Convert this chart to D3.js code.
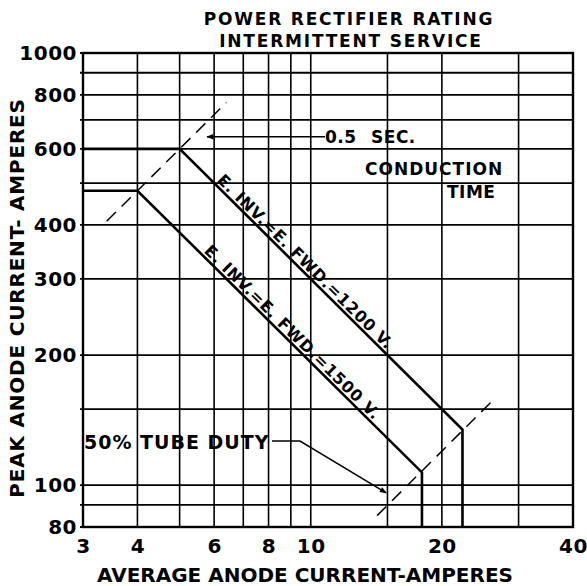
<!DOCTYPE html>
<html>
<head>
<meta charset="utf-8">
<script src="https://cdn.jsdelivr.net/npm/d3@7"></script>
<style>
  body { margin: 0; background: #fff; }
  svg text { font-family: "DejaVu Sans", sans-serif; font-weight: bold; fill: #000; }
</style>
</head>
<body>
<svg id="chart" width="587" height="586"></svg>
<script>
// grid + tick values
const xGrid = [3, 4, 5, 6, 7, 8, 9, 10, 15, 20, 30, 40];
const yGrid = [80, 90, 100, 150, 200, 300, 400, 500, 600, 700, 800, 900, 1000];
const xTicks = [3, 4, 6, 8, 10, 20, 40];
const yTicks = [80, 100, 200, 300, 400, 600, 800, 1000];

// rating curves (avg amps, peak amps)
const curve1200 = [[3, 600], [5, 600], [22.3, 134.5], [22.3, 80]];
const curve1500 = [[3, 480], [4, 480], [18, 107], [18, 80]];

// dashed limit lines
const dashConduction = [[3.4, 408], [6.4, 768]];
const dashDuty = [[14.2, 85], [26, 156]];

const svg = d3.select("#chart");
const plotL = 83, plotT = 53, plotR = 573, plotB = 527;

const x = d3.scaleLog().domain([3, 40]).range([plotL, plotR]);
const y = d3.scaleLog().domain([80, 1000]).range([plotB, plotT]);

// arrowhead
svg.append("defs").append("marker")
    .attr("id", "arrow")
    .attr("viewBox", "0 0 10 10")
    .attr("refX", 9).attr("refY", 5)
    .attr("markerWidth", 10).attr("markerHeight", 7)
    .attr("markerUnits", "userSpaceOnUse")
    .attr("orient", "auto")
    .append("path").attr("d", "M0,1 L10,5 L0,9 Z").attr("fill", "#000");

// grid lines
svg.append("g").selectAll("line").data(xGrid).join("line")
    .attr("x1", d => x(d)).attr("x2", d => x(d))
    .attr("y1", plotT).attr("y2", plotB)
    .attr("stroke", "#000").attr("stroke-width", 1.6);

svg.append("g").selectAll("line").data(yGrid).join("line")
    .attr("x1", plotL - 3).attr("x2", plotR)
    .attr("y1", d => y(d)).attr("y2", d => y(d))
    .attr("stroke", "#000").attr("stroke-width", 1.8);

// frame
svg.append("rect")
    .attr("x", plotL).attr("y", plotT)
    .attr("width", plotR - plotL).attr("height", plotB - plotT)
    .attr("fill", "none").attr("stroke", "#000").attr("stroke-width", 2.4);

// axes (labels only)
const xAxis = svg.append("g")
    .attr("transform", `translate(0,${plotB})`)
    .call(d3.axisBottom(x).tickValues(xTicks).tickFormat(d3.format("d")).tickSize(0).tickPadding(12));
const yAxis = svg.append("g")
    .attr("transform", `translate(${plotL},0)`)
    .call(d3.axisLeft(y).tickValues(yTicks).tickFormat(d3.format("d")).tickSize(0).tickPadding(6));
[xAxis, yAxis].forEach(g => {
    g.select(".domain").remove();
    g.selectAll("text").style("font-size", "20px").style("font-family", "DejaVu Sans")
        .style("font-weight", "bold").style("letter-spacing", "0.5px");
});

const line = d3.line().x(d => x(d[0])).y(d => y(d[1]));

svg.append("path").datum(curve1200).attr("d", line)
    .attr("fill", "none").attr("stroke", "#000").attr("stroke-width", 2.6);
svg.append("path").datum(curve1500).attr("d", line)
    .attr("fill", "none").attr("stroke", "#000").attr("stroke-width", 2.6);

[dashConduction, dashDuty].forEach(d => {
    svg.append("path").datum(d).attr("d", line)
        .attr("fill", "none").attr("stroke", "#000").attr("stroke-width", 1.5)
        .attr("stroke-dasharray", "13,8");
});

// labels along the sloping parts
function slopeLabel(curve, startX, txt, off) {
    const p1 = curve[1], p2 = curve[2];
    const ang = Math.atan2(y(p2[1]) - y(p1[1]), x(p2[0]) - x(p1[0])) * 180 / Math.PI;
    // point on the sloped segment at startX (log-linear)
    const t = Math.log(startX / p1[0]) / Math.log(p2[0] / p1[0]);
    const py = Math.exp(Math.log(p1[1]) + t * Math.log(p2[1] / p1[1]));
    svg.append("text")
        .attr("transform", `translate(${x(startX)},${y(py)}) rotate(${ang})`)
        .attr("dy", -off)
        .style("font-size", "16px")
        .style("letter-spacing", "0.8px")
        .text(txt);
}
slopeLabel(curve1200, 6.0, "E. INV.=E. FWD.=1200 V.", 3);
slopeLabel(curve1500, 5.6, "E. INV.=E. FWD.=1500 V.", 3);

// annotations
svg.append("line")
    .attr("x1", 325).attr("y1", y(640)).attr("x2", 207).attr("y2", y(640))
    .attr("stroke", "#000").attr("stroke-width", 1.5).attr("marker-end", "url(#arrow)");
svg.append("text").attr("x", 325).attr("y", y(640) + 6).style("font-size", "17px")
    .style("letter-spacing", "0.5px").style("word-spacing", "8px").text("0.5 SEC.");
svg.append("text").attr("x", 365).attr("y", y(540) + 6).style("font-size", "17px")
    .style("letter-spacing", "1px").text("CONDUCTION");
svg.append("text").attr("x", 447).attr("y", y(478) + 6).style("font-size", "17px")
    .style("letter-spacing", "0.5px").text("TIME");

svg.append("text").attr("x", 84).attr("y", 449).style("font-size", "19px")
    .style("letter-spacing", "1px").text("50% TUBE DUTY");
svg.append("path")
    .attr("d", `M272,441 L300,441 L${x(14.9)},${y(96)}`)
    .attr("fill", "none").attr("stroke", "#000").attr("stroke-width", 1.5)
    .attr("marker-end", "url(#arrow)");

// titles
svg.append("text").attr("x", 349).attr("y", 25).attr("text-anchor", "middle")
    .style("font-size", "17px").style("letter-spacing", "1.8px").text("POWER RECTIFIER RATING");
svg.append("text").attr("x", 351).attr("y", 47).attr("text-anchor", "middle")
    .style("font-size", "17px").style("letter-spacing", "1.8px").text("INTERMITTENT SERVICE");

svg.append("text").attr("x", 305).attr("y", 582).attr("text-anchor", "middle")
    .style("font-size", "20px").text("AVERAGE ANODE CURRENT-AMPERES");
svg.append("text").attr("transform", "translate(24,298) rotate(-90)").attr("text-anchor", "middle")
    .style("font-size", "20px").style("letter-spacing", "0.8px").text("PEAK ANODE CURRENT- AMPERES");
</script>
</body>
</html>
